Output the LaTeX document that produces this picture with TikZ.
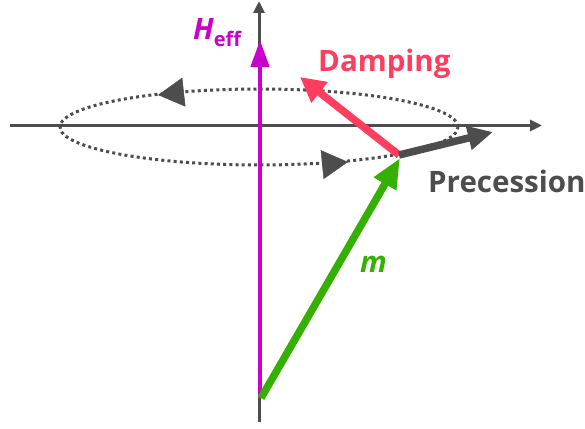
\documentclass[tikz,border=0pt]{standalone}
\usepackage{fontspec}
\setmainfont{Open Sans}
\usetikzlibrary{arrows.meta}
\definecolor{axisgray}{HTML}{4D4D4D}
\definecolor{heffmag}{HTML}{CC00CC}
\definecolor{dampred}{HTML}{FF3D5E}
\definecolor{mgreen}{HTML}{33B000}
\tikzset{
  axisline/.style={draw=axisgray,line width=3pt,-{Triangle[length=12pt,width=11pt]}},
  bigvec/.style={line width=7.5pt},
  orbit/.style={draw=axisgray,line width=3pt,dash pattern=on 3pt off 3.2pt},
  orbithead/.style={draw=axisgray,line width=0.5pt,-{Triangle[length=26pt,width=29pt]}},
  lbl/.style={font=\bfseries\fontsize{29.5}{30}\selectfont,inner sep=0pt,anchor=base west}
}
\begin{document}
\begin{tikzpicture}[x=1pt,y=1pt]
\useasboundingbox (0,0) rectangle (585,428);
% axes
\coordinate (vbot) at (259,6);
\coordinate (vtop) at (259,427);
\coordinate (hleft) at (10,302.5);
\coordinate (hright) at (542,302.5);
\draw[axisline] (vbot) -- (vtop);
\draw[axisline] (hleft) -- (hright);
% orbit
\coordinate (oc) at (259,301);
\draw[orbit] (oc) ellipse [x radius=199, y radius=38];
\coordinate (t1a) at (159,333.11);
\coordinate (t1b) at (158,333);
\coordinate (t2a) at (347,265.9);
\coordinate (t2b) at (348,266);
\draw[orbithead] (t1a) -- (t1b);
\draw[orbithead] (t2a) -- (t2b);
% vectors
\coordinate (origin) at (260,30);
\coordinate (htip) at (260,388);
\coordinate (mstart) at (261,30);
\coordinate (mtip) at (400,270);
\coordinate (base) at (399,273);
\coordinate (dtip) at (300,351);
\coordinate (ptip) at (493,296);
\draw[heffmag,line width=4.5pt,-{Triangle[length=27pt,width=18pt]}] (origin) -- (htip);
\draw[dampred,bigvec,-{Triangle[length=25pt,width=25pt]}] (base) -- (dtip);
\draw[axisgray,bigvec,-{Triangle[length=25pt,width=23pt]}] (base) -- (ptip);
\draw[mgreen,bigvec,-{Triangle[length=30pt,width=24pt]}] (mstart) -- (mtip);
% labels
\node[lbl,text=heffmag] (hl) at (193,388) {\itshape H\raisebox{-7pt}{\upshape\fontsize{20}{20}\selectfont eff}};
\node[lbl,text=dampred] (dl) at (318,356) {Damping};
\node[lbl,text=axisgray] (pl) at (428,235) {Precession};
\node[lbl,text=mgreen] (ml) at (360,155) {\itshape m};
\end{tikzpicture}
\end{document}
